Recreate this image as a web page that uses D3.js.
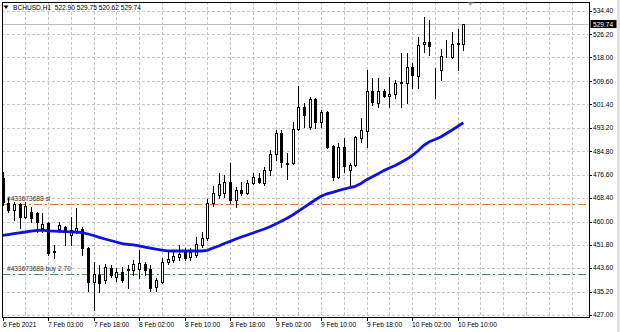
<!DOCTYPE html>
<html>
<head>
<meta charset="utf-8">
<script src="https://cdn.jsdelivr.net/npm/d3@7"></script>
<style>
    body { margin: 0; background: #fff; }
    svg text { font-family: 'Liberation Sans', Arial, sans-serif; font-size: 6.6px; }
</style>
</head>
<body>
<div id="chart"></div>
<script>
//Datos (BCHUSD, H1)
const symbol = 'BCHUSD,H1';
const lastBar = [522.90, 529.75, 520.62, 529.74];

const opens = [475.4,466.6,464.0,466.2,461.6,463.4,463.0,457.7,459.5,449.2,
    457.4,458.1,455.3,456.7,457.4,450.7,438.7,441.1,439.4,443.6,
    440.4,442.2,442.9,442.9,443.2,445.0,443.2,436.9,438.7,445.7,
    446.4,447.5,449.6,447.5,448.2,451.7,454.2,466.6,469.4,470.1,
    474.0,467.6,471.2,470.1,473.6,475.4,473.6,478.2,483.9,491.3,
    480.4,480.7,492.7,500.5,493.4,503.3,495.2,498.7,486.7,475.7,
    486.4,478.2,480.0,489.5,492.0,506.1,501.9,506.1,504.4,505.1,
    509.0,509.0,514.6,511.4,522.7,523.4,513.2,513.5,518.5,518.1,
    522.9,522.90];

const highs = [477.5,468.3,466.9,466.6,466.9,465.2,463.4,463.0,459.9,451.7,
    459.9,458.4,461.6,464.8,458.1,451.0,445.7,444.7,445.0,444.7,
    443.6,443.9,444.7,446.4,450.0,445.7,444.7,440.1,447.1,449.3,
    449.3,451.7,450.7,450.7,454.6,456.3,468.0,472.6,477.2,476.5,
    480.7,472.2,474.0,474.7,477.2,477.2,479.3,485.3,492.4,492.4,
    484.2,495.2,507.9,501.9,504.0,503.7,499.4,499.1,487.1,487.8,
    489.4,480.7,490.2,496.6,513.5,510.7,510.7,506.8,511.1,510.0,
    519.6,519.6,516.0,525.2,532.3,531.2,514.3,521.0,524.1,527.0,
    528.0,529.75];

const lows = [465.9,463.4,460.6,457.7,461.2,459.9,456.3,456.3,448.2,447.1,
    456.3,451.7,451.7,456.0,448.2,435.5,428.8,435.1,438.3,440.4,
    439.0,438.7,436.5,441.1,440.1,441.1,435.5,435.5,438.3,445.0,
    445.7,446.4,446.4,446.4,447.5,451.0,453.5,465.5,468.3,468.7,
    466.6,465.2,469.4,469.8,473.3,473.6,472.9,476.5,481.8,479.3,
    475.0,480.4,492.4,493.4,492.7,493.1,493.4,486.0,474.7,475.4,
    477.5,472.2,479.6,488.1,486.4,501.2,500.5,504.0,500.5,503.7,
    500.5,501.9,507.2,507.2,519.9,518.9,503.7,510.0,518.1,517.8,
    513.5,520.62];

const closes = [466.9,464.1,466.2,461.6,465.5,461.3,459.9,459.1,448.9,449.6,
    458.8,456.7,457.0,457.7,450.7,438.7,441.5,438.3,443.9,441.1,
    442.2,439.4,443.2,445.0,445.4,442.9,436.5,439.4,445.7,446.8,
    447.8,448.5,447.1,449.3,452.1,454.2,466.6,470.1,473.3,474.0,
    467.6,471.2,470.1,473.6,475.7,474.0,478.2,483.9,491.3,481.1,
    480.7,492.7,500.5,497.7,503.3,495.2,498.7,486.4,475.7,486.4,
    479.6,480.0,489.8,492.4,506.1,502.2,506.1,504.4,505.1,509.0,
    509.3,514.6,511.8,522.4,523.4,522.0,513.3,518.5,518.6,522.7,
    523.1,529.74];

//Media movil
const maValues = [455.15,455.43,455.75,456.04,456.32,456.60,456.85,456.96,456.74,456.64,
    456.53,456.46,456.36,456.29,456.14,455.61,455.08,454.41,453.85,453.32,
    452.79,452.22,451.98,451.76,451.45,451.02,450.63,450.24,449.93,449.64,
    449.61,449.61,449.61,449.61,449.61,449.61,449.85,450.67,451.37,452.26,
    453.03,453.85,454.55,455.26,455.97,456.67,457.38,458.19,459.15,460.14,
    461.16,462.33,463.67,465.01,466.39,467.70,468.97,469.82,470.35,470.91,
    471.51,471.97,472.47,473.46,474.80,475.86,476.88,478.01,478.93,479.85,
    480.87,482.00,483.35,484.94,486.88,488.19,489.00,489.88,491.12,492.35,
    493.66,494.90];

const priceTicks = [534.40, 526.20, 518.00, 509.60, 501.40, 493.20, 484.80,
    476.60, 468.40, 460.00, 451.80, 443.60, 435.20, 427.00];

const timeLabels = ['6 Feb 2021', '7 Feb 03:00', '7 Feb 18:00', '8 Feb 02:00', '8 Feb 10:00',
    '8 Feb 18:00', '9 Feb 02:00', '9 Feb 10:00', '9 Feb 18:00', '10 Feb 02:00', '10 Feb 10:00'];
const labelStep = 8, gridStep = 4;

//Ordenes
const orders = [
    {price: 466.2, text: '#433673688 sl', color: '#d9783a'},
    {price: 441.5, text: '#433673688 buy 2.70', color: '#3f9a4a'}
];
const bidPrice = 529.74;

//Colores fijos
const COLOR_GRID = '#c6c6c6',
    COLOR_MA = '#1010e0',
    COLOR_BID = '#bdbdbd';

let width = 620, height = 332;
let frame = {left: 2, right: 589, top: 2, bottom: 317};

let svg = d3.select('#chart')
    .append('svg')
        .attr('width', width)
        .attr('height', height);

//Escalas
let x = d3.scaleLinear()
    .domain([0, 103])
    .range([2.5, 588.6]);

let y = d3.scaleLinear()
    .domain([427, 534.4])
    .range([315, 11]);

let px = function(v) { return Math.round(v) + 0.5; };

svg.append('defs').append('clipPath')
    .attr('id', 'clip')
    .append('rect')
        .attr('x', frame.left + 0.5)
        .attr('y', frame.top + 0.5)
        .attr('width', frame.right - frame.left - 1)
        .attr('height', frame.bottom - frame.top - 1);

let plot = svg.append('g').attr('clip-path', 'url(#clip)');

//Rejilla
plot.append('g')
    .selectAll('line')
    .data(priceTicks)
    .enter()
    .append('line')
        .attr('x1', frame.left)
        .attr('x2', frame.right)
        .attr('y1', function(d) { return px(y(d)); })
        .attr('y2', function(d) { return px(y(d)); })
        .attr('stroke', COLOR_GRID)
        .attr('stroke-dasharray', '3,2');

let gridBars = d3.range(gridStep, 104, gridStep);
plot.append('g')
    .selectAll('line')
    .data(gridBars)
    .enter()
    .append('line')
        .attr('x1', function(d) { return px(x(d)); })
        .attr('x2', function(d) { return px(x(d)); })
        .attr('y1', frame.top)
        .attr('y2', frame.bottom)
        .attr('stroke', COLOR_GRID)
        .attr('stroke-dasharray', '3,2');

//Linea bid
plot.append('line')
    .attr('x1', frame.left)
    .attr('x2', frame.right)
    .attr('y1', px(y(bidPrice)))
    .attr('y2', px(y(bidPrice)))
    .attr('stroke', COLOR_BID);

//Lineas de ordenes
let orderG = plot.append('g')
    .selectAll('g')
    .data(orders)
    .enter()
    .append('g');

orderG.append('line')
    .attr('x1', frame.left)
    .attr('x2', frame.right)
    .attr('y1', function(d) { return px(y(d.price)); })
    .attr('y2', function(d) { return px(y(d.price)); })
    .attr('stroke', function(d) { return d.color; })
    .attr('stroke-dasharray', '8,3,2,3');

orderG.append('text')
    .attr('x', 7)
    .attr('y', function(d) { return y(d.price) - 3; })
    .attr('fill', '#333')
    .text(function(d) { return d.text; });

//Velas
let bars = d3.range(opens.length).map(function(i) {
    return {i: i, o: opens[i], h: highs[i], l: lows[i], c: closes[i]};
});

let candles = plot.append('g')
    .selectAll('g')
    .data(bars)
    .enter()
    .append('g');

candles.append('line')
    .attr('x1', function(d) { return px(x(d.i)); })
    .attr('x2', function(d) { return px(x(d.i)); })
    .attr('y1', function(d) { return Math.round(y(d.h)); })
    .attr('y2', function(d) { return Math.round(y(d.l)) + 1; })
    .attr('stroke', '#000');

candles.append('rect')
    .attr('x', function(d) { return Math.round(x(d.i)) - 0.5; })
    .attr('y', function(d) { return px(y(Math.max(d.o, d.c))); })
    .attr('width', 2)
    .attr('height', function(d) { return Math.round(y(Math.min(d.o, d.c))) - Math.round(y(Math.max(d.o, d.c))); })
    .attr('fill', function(d) { return d.c >= d.o ? '#fff' : '#000'; })
    .attr('stroke', '#000');

//Media movil
let maLine = d3.line()
    .x(function(d, i) { return x(i); })
    .y(function(d) { return y(d); });

plot.append('path')
    .datum(maValues)
    .attr('d', maLine)
    .attr('fill', 'none')
    .attr('stroke', COLOR_MA)
    .attr('stroke-width', 2.8)
    .attr('stroke-linejoin', 'round');

//Marco
svg.append('rect')
    .attr('x', frame.left + 0.5)
    .attr('y', frame.top + 0.5)
    .attr('width', frame.right - frame.left)
    .attr('height', frame.bottom - frame.top)
    .attr('fill', 'none')
    .attr('stroke', '#000');

//Eje de precios
let yAxis = svg.append('g');
yAxis.selectAll('line')
    .data(priceTicks)
    .enter()
    .append('line')
        .attr('x1', frame.right)
        .attr('x2', frame.right + 3)
        .attr('y1', function(d) { return px(y(d)); })
        .attr('y2', function(d) { return px(y(d)); })
        .attr('stroke', '#000');

yAxis.selectAll('text')
    .data(priceTicks)
    .enter()
    .append('text')
        .attr('x', 593)
        .attr('y', function(d) { return y(d) + 2.4; })
        .attr('fill', '#000')
        .text(function(d) { return d3.format('.2f')(d); });

//Precio actual
svg.append('rect')
    .attr('x', 590.5)
    .attr('y', Math.round(y(bidPrice)) - 4)
    .attr('width', 26)
    .attr('height', 8)
    .attr('fill', '#000');

svg.append('text')
    .attr('x', 593)
    .attr('y', y(bidPrice) + 2.4)
    .attr('fill', '#fff')
    .text(d3.format('.2f')(bidPrice));

//Eje temporal
let labelBars = timeLabels.map(function(t, k) { return {bar: k * labelStep, text: t}; });
let xAxis = svg.append('g');
xAxis.selectAll('line')
    .data(labelBars)
    .enter()
    .append('line')
        .attr('x1', function(d) { return px(x(d.bar)); })
        .attr('x2', function(d) { return px(x(d.bar)); })
        .attr('y1', frame.bottom)
        .attr('y2', frame.bottom + 4)
        .attr('stroke', '#000');

xAxis.selectAll('text')
    .data(labelBars)
    .enter()
    .append('text')
        .attr('x', function(d) { return Math.round(x(d.bar)); })
        .attr('y', 327)
        .attr('fill', '#000')
        .text(function(d) { return d.text; });

//Cabecera
svg.append('path')
    .attr('d', 'M3.5,5.5 L8.5,5.5 L6,9 Z')
    .attr('fill', '#000');

svg.append('text')
    .attr('x', 13)
    .attr('y', 10)
    .attr('fill', '#000')
    .style('white-space', 'pre')
    .text(symbol + '  ' + lastBar.map(d3.format('.2f')).join(' '));

//Marca de desplazamiento
let shiftX = x(opens.length - 1) + 7;
svg.append('path')
    .attr('d', 'M' + (shiftX - 3) + ',2.5 L' + (shiftX + 3) + ',2.5 L' + shiftX + ',6 Z')
    .attr('fill', '#a8a8a8');

//Borde de ventana
svg.append('rect')
    .attr('x', 617)
    .attr('y', 0)
    .attr('width', 3)
    .attr('height', height)
    .attr('fill', '#e2e2e2');
</script>
</body>
</html>
